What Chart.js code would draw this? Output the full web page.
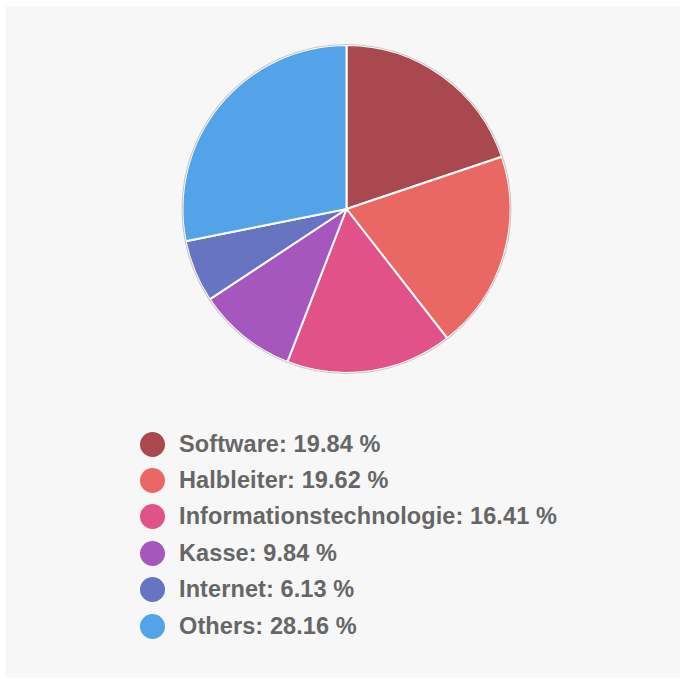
<!DOCTYPE html>
<html>
<head>
<meta charset="utf-8">
<script src="https://cdn.jsdelivr.net/npm/chart.js@4/dist/chart.umd.min.js"></script>
<style>
  body { margin: 0; background: #fff; }
  #box { position: absolute; left: 6px; top: 6px; width: 674px; height: 672px; background: #f7f7f7; }
  #pie { position: absolute; left: 0; top: 0; }
  #legend { position: absolute; left: 0; top: 0; list-style: none; margin: 0; padding: 0; }
  #legend li {
    position: absolute; left: 134px; height: 36px; white-space: nowrap;
    display: flex; align-items: center;
    font: bold 23.5px "Liberation Sans", Arial, sans-serif; letter-spacing: 0.1px; color: #666;
  }
  #legend li span.dot { display: inline-block; width: 25px; height: 25px; border-radius: 50%; margin-right: 14px; }
</style>
</head>
<body>
<div id="box">
  <canvas id="pie" width="674" height="406"></canvas>
  <ul id="legend"></ul>
</div>
<script>
const labels = ['Software', 'Halbleiter', 'Informationstechnologie', 'Kasse', 'Internet', 'Others'];
const shares = [19.84, 19.62, 16.41, 9.84, 6.13, 28.16];
const colors = ['#A9494F', '#EA6864', '#E05288', '#A657BE', '#6674C1', '#52A3E7'];

// thin grey rim around the pie
const rim = {
  id: 'rim',
  afterDatasetsDraw(chart) {
    const arc = chart.getDatasetMeta(0).data[0];
    if (!arc) return;
    const ctx = chart.ctx;
    ctx.save();
    ctx.beginPath();
    ctx.arc(arc.x, arc.y, arc.outerRadius + 0.5, 0, Math.PI * 2);
    ctx.strokeStyle = '#c9c9c9';
    ctx.lineWidth = 1.2;
    ctx.stroke();
    ctx.restore();
  }
};

const ctx = document.getElementById('pie').getContext('2d');
const pieChart = new Chart(ctx, {
  type: 'pie',
  data: {
    labels: labels,
    datasets: [{
      data: shares,
      backgroundColor: colors,
      borderColor: '#ffffff',
      borderWidth: 2
    }]
  },
  options: {
    responsive: false,
    animation: false,
    radius: 164,
    layout: { padding: { left: 7 } },
    plugins: {
      legend: { display: false },
      tooltip: { enabled: false }
    }
  },
  plugins: [rim]
});

// legend list below the pie
const ul = document.getElementById('legend');
labels.forEach((name, i) => {
  const li = document.createElement('li');
  li.style.top = (420 + i * 36.4) + 'px';
  li.innerHTML = '<span class="dot" style="background:' + colors[i] + '"></span>' +
    name + ': ' + shares[i].toFixed(2) + ' %';
  ul.appendChild(li);
});
</script>
</body>
</html>
